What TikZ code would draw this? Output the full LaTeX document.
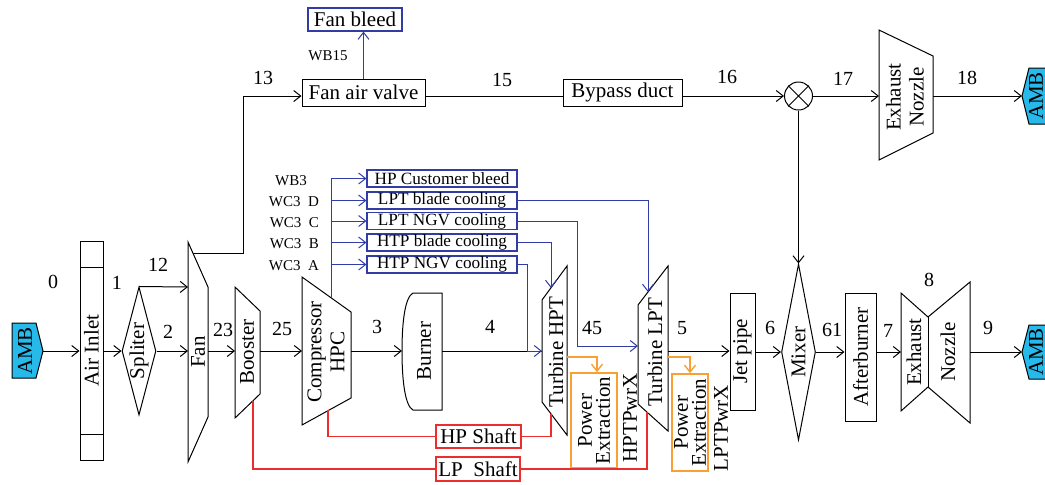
\documentclass[tikz,border=0pt]{standalone}
\usepackage{fontspec}
\setmainfont{Liberation Serif}
\usetikzlibrary{arrows.meta,shapes.geometric}

\definecolor{ambcyan}{RGB}{40,185,235}
\definecolor{bleedblue}{RGB}{50,60,165}
\definecolor{shaftred}{RGB}{235,45,45}
\definecolor{pwrorange}{RGB}{248,160,50}

\tikzset{
  flow/.style={line width=0.5pt, -{Straight Barb[length=3.5pt,width=5.5pt]}},
  bflow/.style={flow, draw=bleedblue},
  oflow/.style={flow, line width=0.7pt, draw=pwrorange},
  shaft/.style={line width=0.9pt, draw=shaftred},
  part/.style={draw, line width=0.5pt},
  box/.style={part, inner sep=0pt},
  pbox/.style={box, draw=pwrorange, line width=0.8pt},
  bbox/.style={draw=bleedblue, line width=0.6pt, inner sep=0pt, minimum width=75pt, minimum height=8.5pt, font=\fontsize{8.6}{9}\selectfont},
  amb/.style={part, fill=ambcyan},
  num/.style={font=\fontsize{10}{10}\selectfont},
  tag/.style={font=\fontsize{7.5}{8}\selectfont},
  vert/.style={rotate=90, align=center},
}

\begin{document}
\begin{tikzpicture}[x=0.5pt, y=-0.5pt, font=\fontsize{10.5}{11.5}\selectfont]
\useasboundingbox (0,0) rectangle (1045,484);
\clip (0,0) rectangle (1045,484);

\draw[amb] (12,323) -- (36,323) -- (43,351) -- (36,378) -- (12,378) -- cycle;
\node[rotate=90] (ambL) at (25,351) {AMB};
\coordinate (ambL-out) at (43,351);

\draw[amb] (1022,352) -- (1029,325) -- (1060,325) -- (1060,379) -- (1029,379) -- cycle;
\node[rotate=90] (ambR) at (1036,352) {AMB};
\coordinate (ambR-in) at (1022,352);

\draw[amb] (1022,96) -- (1029,68) -- (1060,68) -- (1060,124) -- (1029,124) -- cycle;
\node[rotate=90] (ambT) at (1036,96) {AMB};
\coordinate (ambT-in) at (1022,96);

\node[box, minimum width=11.5pt, minimum height=109.5pt] (inlet) at (91.5,350.5) {};
\draw[part] (80,267) -- (103,267) (80,434) -- (103,434);
\node[rotate=90] (inlet-txt) at (inlet) {Air Inlet};

\node[part, diamond, inner sep=0pt, minimum width=17pt, minimum height=64pt] (spliter) at (139,351) {};
\node[rotate=90] (spliter-txt) at (spliter) {Spliter};

\draw[part] (188,242) -- (208,287) -- (208,417) -- (188,462) -- cycle;
\node[rotate=90] (fan) at (198,352) {Fan};
\coordinate (fan-in) at (188,351);
\coordinate (fan-in12) at (188,287);
\coordinate (fan-out) at (208,351);
\coordinate (fan-bypass) at (193,253);

\draw[part] (235,287) -- (260,311) -- (260,394) -- (235,418) -- cycle;
\node[rotate=90] (booster) at (247,352) {Booster};
\coordinate (boost-in) at (235,351);
\coordinate (boost-out) at (260,351);
\coordinate (boost-shaft) at (253,401);

\draw[part] (302,277) -- (351,312) -- (351,398) -- (302,425) -- cycle;
\node[vert] (hpc) at (326,352) {Compressor\\HPC};
\coordinate (hpc-in) at (302,351);
\coordinate (hpc-out) at (351,351);
\coordinate (hpc-bleed) at (331,298);
\coordinate (hpc-shaft) at (328,410);

\draw[part] (442,293) -- (413,293) .. controls (405,297) and (402,322) .. (402,351)
  .. controls (402,380) and (405,406) .. (413,410) -- (442,410) -- cycle;
\node[rotate=90] (burner) at (424,351) {Burner};
\coordinate (burner-in) at (402,351);
\coordinate (burner-out) at (442,351);

\draw[part] (542,300) -- (567,266) -- (567,435) -- (542,402) -- cycle;
\node[rotate=90] (hpt) at (556,352) {Turbine HPT};
\coordinate (hpt-in) at (542,351);
\coordinate (hpt-top) at (551,288);
\coordinate (hpt-pwr) at (567,357);
\coordinate (hpt-shaft) at (551,414);

\draw[part] (638,305) -- (668,266) -- (668,431) -- (638,404) -- cycle;
\node[rotate=90] (lpt) at (655,352) {Turbine LPT};
\coordinate (lpt-in) at (638,346);
\coordinate (lpt-top) at (648,292);
\coordinate (lpt-out) at (668,351);
\coordinate (lpt-pwr) at (668,357);
\coordinate (lpt-shaft) at (647,412);

\node[box, minimum width=12.5pt, minimum height=58.5pt] (jetpipe) at (742.5,351.5) {};
\node[rotate=90] (jetpipe-txt) at (jetpipe) {Jet pipe};

\node[part, diamond, inner sep=0pt, minimum width=17pt, minimum height=88pt] (mixer) at (798.5,352) {};
\node[rotate=90] (mixer-txt) at (mixer) {Mixer};

\node[box, minimum width=15.5pt, minimum height=64pt] (afterburner) at (860.5,357) {};
\node[rotate=90] (afterburner-txt) at (afterburner) {Afterburner};

\draw[part] (901,293) -- (928,317) -- (970,282) -- (970,423) -- (928,387) -- (901,411) -- cycle;
\draw[part] (928,317) -- (928,387);
\node[rotate=90] (exhaust) at (914,352) {Exhaust};
\node[rotate=90] (nozzle) at (948,352) {Nozzle};
\coordinate (exh-in) at (901,352);
\coordinate (noz-out) at (970,352);

\node[box, minimum width=61.5pt, minimum height=13.5pt] (valve) at (363.5,92.5) {Fan air valve};
\node[box, draw=bleedblue, line width=0.6pt, minimum width=47pt, minimum height=11.5pt] (fanbleed) at (355,19.5) {Fan bleed};
\node[box, minimum width=59.5pt, minimum height=13.5pt] (bypass) at (622.5,92.5) {Bypass duct};
\node[part, circle, inner sep=0pt, minimum size=14pt] (junc) at (798.5,96) {};
\draw[part] (junc.north west) -- (junc.south east) (junc.south west) -- (junc.north east);

\draw[part] (879,30) -- (933,56) -- (933,133) -- (879,160) -- cycle;
\node[vert] (exhnoz) at (905,97) {Exhaust\\Nozzle};
\coordinate (exht-in) at (879,96);
\coordinate (exht-out) at (933,96);

\node[bbox] (hpcb) at (442,178.5) {HP Customer bleed};
\node[bbox] (lptb) at (442,200.5) {LPT blade cooling};
\node[bbox] (lptn) at (442,221) {LPT NGV cooling};
\node[bbox] (hptb) at (442,242.5) {HTP blade cooling};
\node[bbox] (hptn) at (442,264.5) {HTP NGV cooling};

\node[tag] (wb3) at (291,181) {WB3};
\node[tag, anchor=east] (wc3d) at (326,202) {WC3\enspace D};
\node[tag, anchor=east] (wc3c) at (326,223) {WC3\enspace C};
\node[tag, anchor=east] (wc3b) at (326,244) {WC3\enspace B};
\node[tag, anchor=east] (wc3a) at (326,266) {WC3\enspace A};
\node[tag] (wb15) at (328,56) {WB15};

\node[pbox, minimum width=23pt, minimum height=47.5pt] (hptpwr) at (594,420.5) {};
\node[vert, font=\fontsize{10.5}{9}\selectfont] (hptpwr-txt) at (hptpwr) {Power\\Extraction};
\node[rotate=90] (hptpwrx) at (630,418) {HPTPwrX};
\node[pbox, minimum width=18pt, minimum height=48.5pt] (lptpwr) at (690,422.5) {};
\node[vert, font=\fontsize{10.5}{9}\selectfont] (lptpwr-txt) at (lptpwr) {Power\\Extraction};
\node[rotate=90] (lptpwrx) at (721,428) {LPTPwrX};

\node[box, draw=shaftred, line width=0.8pt, minimum width=42.5pt, minimum height=11.5pt] (hpshaft) at (478.5,436.5) {HP Shaft};
\node[box, draw=shaftred, line width=0.8pt, minimum width=42pt, minimum height=12pt] (lpshaft) at (478,469) {LP\enspace Shaft};

\foreach \n/\x/\y in {0/53/282, 1/117/283, 12/158/265, 2/168/332, 23/223/330, 25/282/329,
  3/377/327, 4/490/327, 45/592/328, 5/682/328, 6/770/328, 61/832/330, 7/888/331,
  8/929/280, 9/988/328, 13/263/78, 15/502/80, 16/727/77, 17/843/79, 18/967/78}
  \node[num] (st\n) at (\x,\y) {\n};

\draw[flow] (ambL-out) -- (inlet.west |- ambL-out);
\draw[flow] (inlet.east |- spliter) -- (spliter.west);
\draw[flow] (spliter.north) -- (fan-in12);
\draw[flow] (spliter.east) -- (fan-in);
\draw[flow] (fan-bypass) -- (243,253) -- (243,96) -- (valve.west |- junc);
\draw[flow] (fan-out) -- (boost-in);
\draw[flow] (boost-out) -- (hpc-in);
\draw[flow] (hpc-out) -- (burner-in);
\draw[line width=0.5pt] (burner-out) -- (hpt-in);
\draw[line width=0.5pt] (valve.east |- junc) -- (bypass.west |- junc);
\draw[flow] (bypass.east |- junc) -- (junc);
\draw[flow] (junc) -- (exht-in);
\draw[flow] (exht-out) -- (ambT-in);
\draw[flow] (junc) -- (mixer.north);
\draw[flow] (lpt-out) -- (jetpipe.west |- lpt-out);
\draw[flow] (jetpipe.east |- mixer) -- (mixer.west);
\draw[flow] (mixer.east) -- (afterburner.west |- mixer.east);
\draw[flow] (afterburner.east |- mixer) -- (exh-in);
\draw[flow] (noz-out) -- (ambR-in);

\draw[bleedblue, line width=0.5pt] (hpc-bleed) -- (hpc-bleed |- hpcb);
\foreach \b in {hpcb, lptb, lptn, hptb, hptn}
  \draw[bflow] (hpc-bleed |- \b) -- (\b.west);
\draw[bflow] (valve.north) -- (valve.north |- fanbleed.south);
\draw[bflow] (lptb.east) -| (lpt-top);
\draw[bflow] (hptb.east) -| (hpt-top);
\draw[bflow] (lptn.east) -- (577,221) -- (577,346) -- (lpt-in);
\draw[bflow] (hptn.east) -- (527,264.5) -- (527,351) -- (hpt-in);

\draw[shaft] (hpc-shaft) |- (hpshaft.west);
\draw[shaft] (hpshaft.east) -| (hpt-shaft);
\draw[shaft] (boost-shaft) |- (lpshaft.west);
\draw[shaft] (lpshaft.east) -| (lpt-shaft);

\draw[oflow] (hpt-pwr) -| ([xshift=1.5pt]hptpwr.north);
\draw[oflow] (lpt-pwr) -| (lptpwr.north);
\end{tikzpicture}
\end{document}
